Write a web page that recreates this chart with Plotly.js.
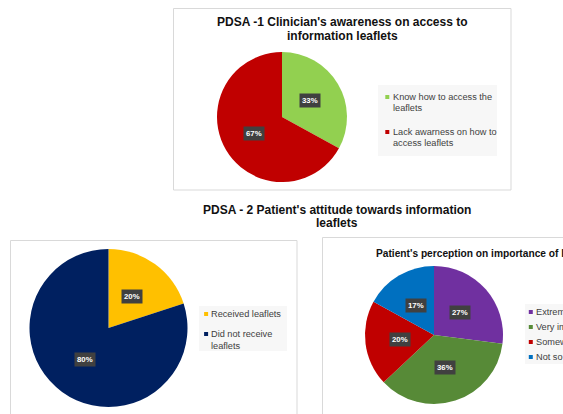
<!DOCTYPE html>
<html>
<head>
<meta charset="utf-8">
<script src="https://cdn.plot.ly/plotly-3.0.1.min.js"></script>
<style>html,body{margin:0;padding:0;background:#fff;}#chart{width:563px;height:414px;}</style>
</head>
<body>
<div id="chart"></div>
<script>
// ---- data ----
const title1 = "PDSA -1 Clinician's awareness on access to<br>information leaflets";
const labels1 = ["Know how to access the<br>leaflets", "Lack awarness on how to<br>access leaflets"];
const values1 = [33, 67];
const colors1 = ["#92d050", "#c00000"];

const title2 = "PDSA - 2 Patient's attitude towards information<br>leaflets";
const labels2 = ["Received leaflets", "Did not receive<br>leaflets"];
const values2 = [20, 80];
const colors2 = ["#ffc000", "#002060"];

const title3 = "Patient's perception on importance of leaflets";
const labels3 = ["Extremely important", "Very important", "Somewhat important", "Not so important"];
const values3 = [27, 36, 20, 17];
const colors3 = ["#7030a0", "#578a37", "#c00000", "#0070c0"];

// ---- layout helpers (pixel -> paper) ----
const W = 563, H = 414;
const px = x => x / W;
const py = y => 1 - y / H;
const FONT = "Liberation Sans, Arial, sans-serif";

const pies = [
  {labels: labels1, values: values1, colors: colors1, cx: 282, cy: 117, r: 65,
   leg: {textX: 390.5, itemY: [97, 132], lineGap: 10.5}},
  {labels: labels2, values: values2, colors: colors2, cx: 108.5, cy: 328, r: 79,
   leg: {textX: 209.3, itemY: [314, 334], lineGap: 11.5}},
  {labels: labels3, values: values3, colors: colors3, cx: 434, cy: 335, r: 69,
   leg: {textX: 534, itemY: [312, 327, 342, 357], lineGap: 11}}
];

const traces = pies.map(p => ({
  type: "pie",
  labels: p.labels,
  values: p.values,
  marker: {colors: p.colors, line: {width: 0}},
  sort: false,
  direction: "clockwise",
  rotation: 0,
  textinfo: "none",
  hoverinfo: "label+percent",
  showlegend: false,
  domain: {x: [px(p.cx - p.r), px(p.cx + p.r)], y: [py(p.cy + p.r), py(p.cy - p.r)]}
}));

const annotations = [];
const boxLine = {color: "#d9d9d9", width: 1};
const shapes = [
  {type: "rect", xref: "paper", yref: "paper", x0: px(173.5), x1: px(511), y0: py(8.5), y1: py(190), line: boxLine, fillcolor: "rgba(0,0,0,0)", layer: "below"},
  {type: "rect", xref: "paper", yref: "paper", x0: px(10.5), x1: px(297), y0: py(240.5), y1: py(420), line: boxLine, fillcolor: "rgba(0,0,0,0)", layer: "below"},
  {type: "rect", xref: "paper", yref: "paper", x0: px(322.5), x1: px(580), y0: py(237.5), y1: py(420), line: boxLine, fillcolor: "rgba(0,0,0,0)", layer: "below"},
  // legend backgrounds
  {type: "rect", xref: "paper", yref: "paper", x0: px(378), x1: px(497), y0: py(85), y1: py(156), line: {width: 0}, fillcolor: "#f7f7f7", layer: "below"},
  {type: "rect", xref: "paper", yref: "paper", x0: px(199), x1: px(287), y0: py(306), y1: py(351), line: {width: 0}, fillcolor: "#f7f7f7", layer: "below"},
  {type: "rect", xref: "paper", yref: "paper", x0: px(525), x1: px(600), y0: py(304), y1: py(364), line: {width: 0}, fillcolor: "#f7f7f7", layer: "below"}
];

pies.forEach(p => {
  // data labels (dark boxes) placed from slice mid-angles
  const total = p.values.reduce((a, b) => a + b, 0);
  let cum = 0;
  p.values.forEach(v => {
    const mid = (cum + v / 2) / total * 2 * Math.PI;
    cum += v;
    const rr = 0.5 * p.r;
    annotations.push({
      xref: "paper", yref: "paper",
      x: px(p.cx + rr * Math.sin(mid)), y: py(p.cy - rr * Math.cos(mid)),
      text: "<b>" + Math.round(v / total * 100) + "%</b>",
      showarrow: false, bgcolor: "#404040", borderpad: 2,
      font: {family: FONT, size: 7.8, color: "#ffffff"},
      xanchor: "center", yanchor: "middle"
    });
  });
  // legend entries (square swatch + wrapped label)
  p.labels.forEach((lab, i) => {
    const y0 = p.leg.itemY[i];
    shapes.push({type: "rect", xref: "paper", yref: "paper",
      x0: px(p.leg.textX - 5.2), x1: px(p.leg.textX - 1.2), y0: py(y0 + 2), y1: py(y0 - 2),
      line: {width: 0}, fillcolor: p.colors[i]});
    lab.split("<br>").forEach((line, j) => {
      annotations.push({xref: "paper", yref: "paper", x: px(p.leg.textX), y: py(y0 + j * p.leg.lineGap),
        text: line, showarrow: false, xanchor: "left", yanchor: "middle",
        font: {family: FONT, size: 9.2, color: "#404040"}});
    });
  });
});

// titles (one annotation per line for tight Excel-like line spacing)
function addTitle(txt, x, yFirst, gap, anchor, size) {
  txt.split("<br>").forEach((line, j) => {
    annotations.push({xref: "paper", yref: "paper", x: px(x), y: py(yFirst + j * gap), text: "<b>" + line + "</b>",
      showarrow: false, xanchor: anchor, yanchor: "middle", font: {family: FONT, size: size, color: "#111111"}});
  });
}
addTitle(title1, 342, 22, 13.5, "center", 12);
addTitle(title2, 337, 210, 13.5, "center", 12);
addTitle(title3, 374, 254, 12, "left", 10.2);

const layout = {
  width: W, height: H,
  margin: {l: 0, r: 0, t: 0, b: 0, autoexpand: false},
  paper_bgcolor: "#ffffff",
  showlegend: false,
  annotations: annotations,
  shapes: shapes
};

Plotly.newPlot("chart", traces, layout, {displayModeBar: false, staticPlot: true});
</script>
</body>
</html>
